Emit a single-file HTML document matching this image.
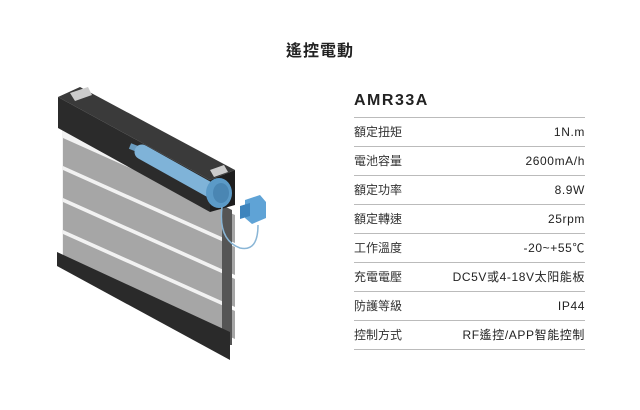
<!DOCTYPE html>
<html><head><meta charset="utf-8"><style>
body{margin:0;width:640px;height:410px;background:#fff;position:relative;overflow:hidden;font-family:"Liberation Sans","Noto Sans CJK TC",sans-serif;color:#222}
.t{position:absolute;left:0;width:640px;top:37px;text-align:center;font-size:16px;font-weight:bold;letter-spacing:1px}
.m{position:absolute;left:354px;top:92px;font-size:16px;font-weight:bold;letter-spacing:1.5px}
.row{position:absolute;left:354px;width:231px;height:28px;border-top:1px solid #bbb;font-size:12px;line-height:28px;color:#333}
.row span{float:right;letter-spacing:0.6px;color:#222}
.last{position:absolute;left:354px;width:231px;top:349px;border-top:1px solid #bbb}
</style></head><body>
<div class="t">遙控電動</div>
<svg width="640" height="410" style="position:absolute;left:0;top:0">
<polygon points="62,128 222,205 222,345 62,262" fill="#f2f2f2"/>
<g fill="#a6a6a6">
<polygon points="63,138 235,215 235,243 63,166"/>
<polygon points="63,170 235,247 235,275 63,198"/>
<polygon points="63,202 235,279 235,307 63,230"/>
<polygon points="63,234 235,311 235,339 63,262"/>
</g>
<polygon points="222,205 232,210 232,345 222,345" fill="#555"/>
<polygon points="57,252 230,332 230,360 57,266" fill="#2a2a2a"/>
<polygon points="58,97 80,87 235,170 210,180" fill="#3a3a3a"/>
<polygon points="58,97 210,180 210,212 58,128" fill="#2b2b2b"/>
<polygon points="210,180 235,170 235,205 210,212" fill="#1e1e1e"/>
<polygon points="70,93 88,87 92,95 75,101" fill="#ccc"/>
<polygon points="210,170 224,165 228,172 214,177" fill="#ccc"/>
<line x1="130" y1="146" x2="140" y2="150" stroke="#6a9cc0" stroke-width="6"/>
<line x1="142" y1="152" x2="210" y2="190" stroke="#7fb3d8" stroke-width="15" stroke-linecap="round"/>
<ellipse cx="219" cy="193" rx="13" ry="15" fill="#5b9ac7"/>
<ellipse cx="221" cy="193" rx="8" ry="10" fill="#4a86b3"/>
<path d="M222,207 Q218,240 240,248 Q258,252 258,225" fill="none" stroke="#8ab6d6" stroke-width="1.5"/>
<polygon points="245,200 260,195 266,202 266,218 252,224 245,218" fill="#5fa3d6"/>
<polygon points="240,206 250,203 250,216 240,219" fill="#3d84bd"/>
</svg>
<div class="m">AMR33A</div>
<div class="row" style="top:117px">額定扭矩<span>1N.m</span></div>
<div class="row" style="top:146px">電池容量<span>2600mA/h</span></div>
<div class="row" style="top:175px">額定功率<span>8.9W</span></div>
<div class="row" style="top:204px">額定轉速<span>25rpm</span></div>
<div class="row" style="top:233px">工作溫度<span>-20~+55℃</span></div>
<div class="row" style="top:262px">充電電壓<span>DC5V或4-18V太阳能板</span></div>
<div class="row" style="top:291px">防護等級<span>IP44</span></div>
<div class="row" style="top:320px">控制方式<span>RF遙控/APP智能控制</span></div>
<div class="last"></div>
</body></html>
